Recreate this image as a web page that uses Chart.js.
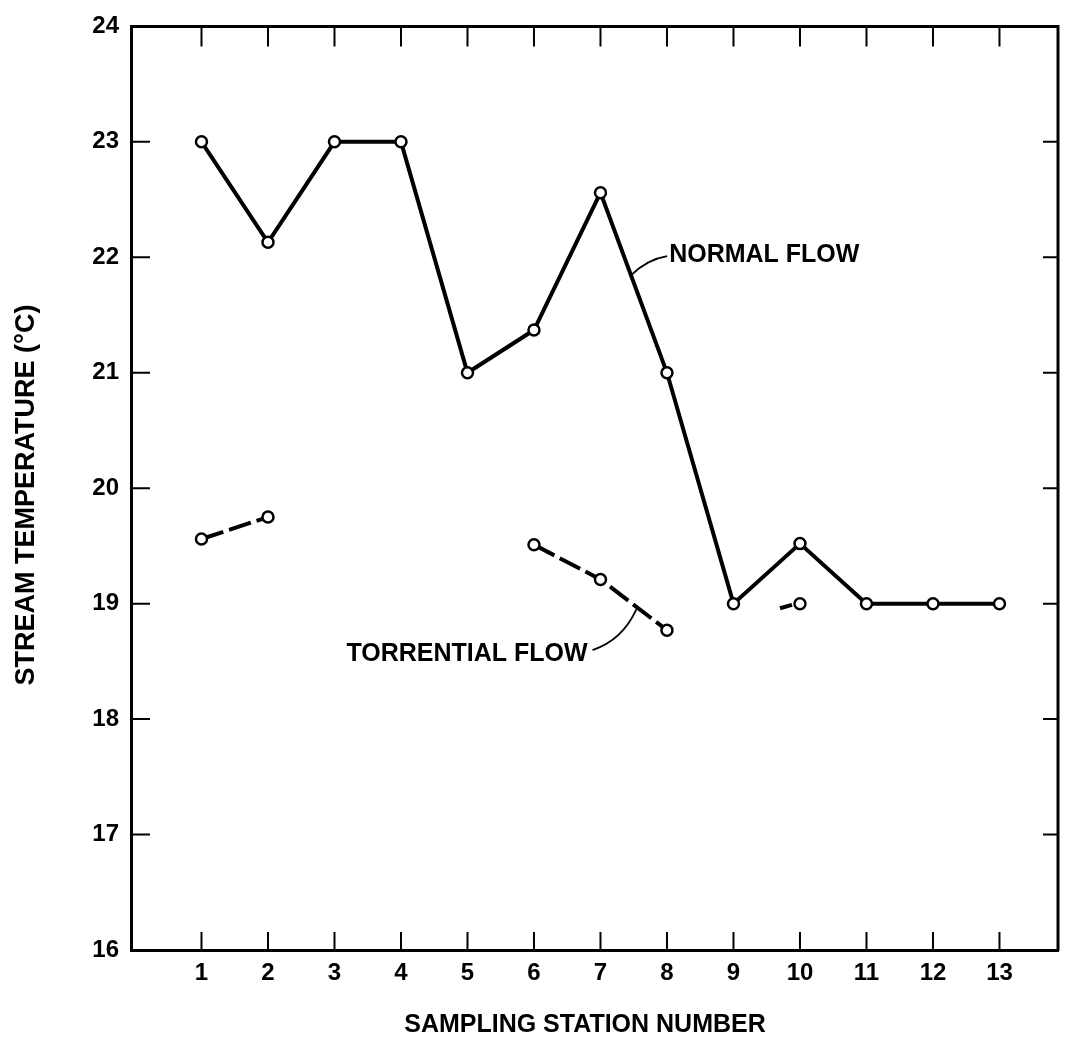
<!DOCTYPE html>
<html>
<head>
<meta charset="utf-8">
<script src="https://cdn.jsdelivr.net/npm/chart.js@4.4.1/dist/chart.umd.min.js"></script>
<style>
  html, body { margin: 0; padding: 0; background: #fff; }
  #wrap { width: 1066px; height: 1042px; }
</style>
</head>
<body>
<div id="wrap"><canvas id="tempChart" width="1066" height="1042"></canvas></div>
<script>
// values
const stations = [1, 2, 3, 4, 5, 6, 7, 8, 9, 10, 11, 12, 13];
const normalFlow = [23, 22.13, 23, 23, 21, 21.37, 22.56, 21, 19, 19.52, 19, 19, 19];
const torrentialFlow = [19.56, 19.75, null, null, null, 19.51, 19.21, 18.77, null, 19.0, null, null, null];
const torrentialStubStations = [9.7, 9.88];
const torrentialStubTemps = [18.96, 18.99];
const tempTicks = [16, 17, 18, 19, 20, 21, 22, 23, 24];

const FONT = '"Liberation Sans", Arial, sans-serif';

const toPoints = (xs, ys) => xs.map((x, i) => ({ x: x, y: ys[i] }));

// inward tick marks on all four sides, top and right frame lines
const frameTicks = {
    id: 'frameTicks',
    afterDraw(chart) {
        const { ctx, chartArea: a, scales: { x, y } } = chart;
        ctx.save();
        ctx.strokeStyle = '#000';
        ctx.lineWidth = 3;
        ctx.beginPath();
        ctx.moveTo(a.left - 1, a.top);
        ctx.lineTo(a.right, a.top);
        ctx.lineTo(a.right, a.bottom + 1);
        ctx.stroke();

        ctx.lineWidth = 2;
        ctx.beginPath();
        stations.forEach(v => {
            const px = x.getPixelForValue(v);
            ctx.moveTo(px, a.bottom);
            ctx.lineTo(px, a.bottom - 18);
            ctx.moveTo(px, a.top);
            ctx.lineTo(px, a.top + 20);
        });
        tempTicks.slice(1, -1).forEach(v => {
            const py = y.getPixelForValue(v);
            ctx.moveTo(a.left, py);
            ctx.lineTo(a.left + 19, py);
            ctx.moveTo(a.right, py);
            ctx.lineTo(a.right - 15, py);
        });
        ctx.stroke();
        ctx.restore();
    }
};

// axis titles and the two hand-drawn labels with their leaders
const labels = {
    id: 'labels',
    afterDraw(chart) {
        const { ctx, scales: { x, y } } = chart;
        const P = (sx, t) => [x.getPixelForValue(sx), y.getPixelForValue(t)];
        ctx.save();
        ctx.fillStyle = '#000';
        ctx.strokeStyle = '#000';

        ctx.font = 'bold 25px ' + FONT;
        ctx.textAlign = 'center';
        ctx.textBaseline = 'middle';
        ctx.fillText('SAMPLING STATION NUMBER', 585, 1025);

        ctx.save();
        ctx.translate(27, 495);
        ctx.rotate(-Math.PI / 2);
        ctx.font = 'bold 27px ' + FONT;
        ctx.fillText('STREAM TEMPERATURE (\u00B0C)', 0, 0);
        ctx.restore();

        ctx.font = 'bold 25px ' + FONT;
        ctx.textBaseline = 'middle';

        ctx.textAlign = 'left';
        let p = P(8.033, 22.03);
        ctx.fillText('NORMAL FLOW', p[0], p[1] + 1);

        ctx.textAlign = 'right';
        p = P(6.806, 18.572);
        ctx.fillText('TORRENTIAL FLOW', p[0], p[1] + 1);

        ctx.lineWidth = 1.8;
        let s = P(7.449, 21.84), c = P(7.704, 21.985), e = P(8.003, 22.011);
        ctx.beginPath();
        ctx.moveTo(s[0], s[1]);
        ctx.quadraticCurveTo(c[0], c[1], e[0], e[1]);
        ctx.stroke();

        s = P(6.881, 18.598); c = P(7.33, 18.684); e = P(7.539, 18.95);
        ctx.beginPath();
        ctx.moveTo(s[0], s[1]);
        ctx.quadraticCurveTo(c[0], c[1], e[0], e[1]);
        ctx.stroke();

        ctx.restore();
    }
};

const ctx = document.getElementById('tempChart').getContext('2d');

const tempChart = new Chart(ctx, {
    type: 'line',
    data: {
        datasets: [
            {
                label: 'Normal flow',
                data: toPoints(stations, normalFlow),
                borderColor: '#000',
                borderWidth: 4,
                pointRadius: 5.5,
                pointBorderWidth: 2.5,
                pointBackgroundColor: '#fff',
                pointBorderColor: '#000',
                tension: 0
            },
            {
                label: 'Torrential flow',
                data: toPoints(stations, torrentialFlow),
                borderColor: '#000',
                borderWidth: 4,
                borderDash: [23, 6],
                pointRadius: 5.5,
                pointBorderWidth: 2.5,
                pointBackgroundColor: '#fff',
                pointBorderColor: '#000',
                spanGaps: false,
                tension: 0
            },
            {
                label: 'Torrential flow (stub)',
                data: toPoints(torrentialStubStations, torrentialStubTemps),
                borderColor: '#000',
                borderWidth: 4,
                pointRadius: 0,
                tension: 0
            }
        ]
    },
    options: {
        responsive: false,
        animation: false,
        devicePixelRatio: 1,
        events: [],
        layout: { padding: { top: 17, right: 3, left: 0, bottom: 0 } },
        plugins: {
            legend: { display: false },
            tooltip: { enabled: false }
        },
        scales: {
            x: {
                type: 'linear',
                min: -0.06,
                max: 13.88,
                afterBuildTicks: s => { s.ticks = stations.map(v => ({ value: v })); },
                afterFit: s => { s.height = 92; },
                grid: { display: false, drawTicks: false },
                border: { display: true, color: '#000', width: 3 },
                ticks: {
                    color: '#000',
                    font: { family: FONT, size: 24, weight: 'bold' },
                    padding: 9,
                    autoSkip: false,
                    maxRotation: 0,
                    callback: v => String(v)
                }
            },
            y: {
                min: 16,
                max: 24,
                afterBuildTicks: s => { s.ticks = tempTicks.map(v => ({ value: v })); },
                afterFit: s => { s.width = 131; },
                grid: { display: false, drawTicks: false },
                border: { display: true, color: '#000', width: 3 },
                ticks: {
                    color: '#000',
                    font: { family: FONT, size: 24, weight: 'bold' },
                    padding: 12,
                    callback: v => String(v)
                }
            }
        }
    },
    plugins: [frameTicks, labels]
});
</script>
</body>
</html>
